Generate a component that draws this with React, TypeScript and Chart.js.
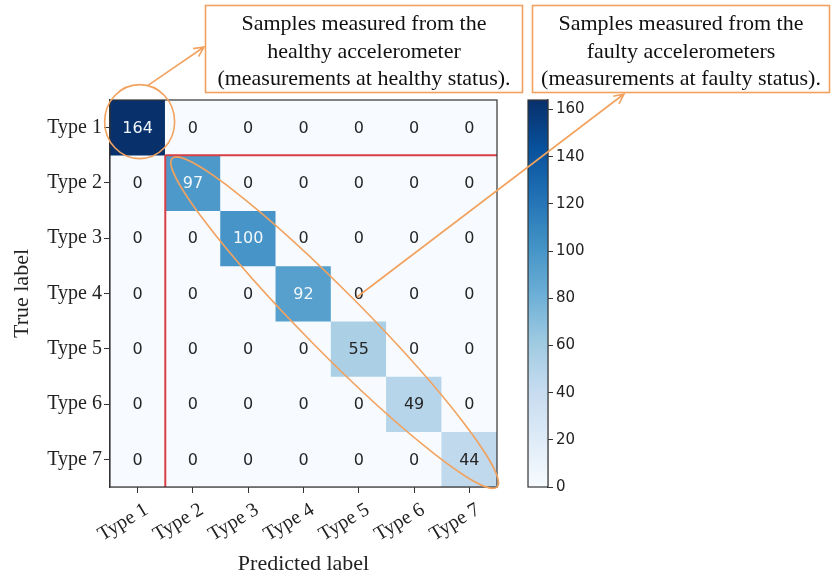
import React, { useEffect, useRef } from 'react';
import { Chart, registerables } from 'chart.js';

Chart.register(...registerables);

// ---------- data ----------
const typeLabels = ['Type 1', 'Type 2', 'Type 3', 'Type 4', 'Type 5', 'Type 6', 'Type 7'];
const row1 = [164, 0, 0, 0, 0, 0, 0];
const row2 = [0, 97, 0, 0, 0, 0, 0];
const row3 = [0, 0, 100, 0, 0, 0, 0];
const row4 = [0, 0, 0, 92, 0, 0, 0];
const row5 = [0, 0, 0, 0, 55, 0, 0];
const row6 = [0, 0, 0, 0, 0, 49, 0];
const row7 = [0, 0, 0, 0, 0, 0, 44];
const confusion = [row1, row2, row3, row4, row5, row6, row7];
const colorMax = 164;
const colorbarTicks = [0, 20, 40, 60, 80, 100, 120, 140, 160];
const xTitle = 'Predicted label';
const yTitle = 'True label';
const healthyNote = ['Samples measured from the', 'healthy accelerometer', '(measurements at healthy status).'];
const faultyNote = ['Samples measured from the', 'faulty accelerometers', '(measurements at faulty status).'];

// ---------- style ----------
const BLUES = ['#f7fbff', '#deebf7', '#c6dbef', '#9ecae1', '#6baed6', '#4292c6', '#2171b5', '#08519c', '#08306b'];
const SERIF = "'Liberation Serif', 'Times New Roman', serif";
const SANS = "'DejaVu Sans', sans-serif";
const ORANGE = '#f2a25e';
const AXIS = '#333333';
const TEXT = '#222222';

function hexToRgb(h: string) {
  const n = parseInt(h.slice(1), 16);
  return [(n >> 16) & 255, (n >> 8) & 255, n & 255];
}
function blues(t: number) {
  const tt = Math.max(0, Math.min(1, t)) * (BLUES.length - 1);
  const i = Math.min(BLUES.length - 2, Math.floor(tt));
  const f = tt - i;
  const a = hexToRgb(BLUES[i]);
  const b = hexToRgb(BLUES[i + 1]);
  const c = a.map((v, k) => Math.round(v + (b[k] - v) * f));
  return `rgb(${c[0]},${c[1]},${c[2]})`;
}

function arrow(ctx: CanvasRenderingContext2D, x0: number, y0: number, x1: number, y1: number) {
  ctx.beginPath();
  ctx.moveTo(x0, y0);
  ctx.lineTo(x1, y1);
  const ang = Math.atan2(y1 - y0, x1 - x0);
  const L = 11;
  const spread = 0.45;
  ctx.moveTo(x1 - L * Math.cos(ang - spread), y1 - L * Math.sin(ang - spread));
  ctx.lineTo(x1, y1);
  ctx.lineTo(x1 - L * Math.cos(ang + spread), y1 - L * Math.sin(ang + spread));
  ctx.stroke();
}

const heatmapPlugin = {
  id: 'heatmapOverlay',
  afterDatasetsDraw(chart: any) {
    const { ctx, chartArea: a, scales } = chart;
    const xs = scales.x;
    const ys = scales.y;
    ctx.save();
    // cell values
    ctx.font = `16px ${SANS}`;
    ctx.textAlign = 'center';
    ctx.textBaseline = 'middle';
    confusion.forEach((row, i) => {
      row.forEach((v, j) => {
        ctx.fillStyle = v > colorMax / 2 ? '#f2f7fc' : '#262626';
        ctx.fillText(String(v), xs.getPixelForValue(j), ys.getPixelForValue(i + 0.5) + 1);
      });
    });
    // red separators
    const xSep = (xs.getPixelForValue(0) + xs.getPixelForValue(1)) / 2;
    const ySep = ys.getPixelForValue(1);
    ctx.strokeStyle = '#d63f46';
    ctx.lineWidth = 2;
    ctx.beginPath();
    ctx.moveTo(xSep, ySep);
    ctx.lineTo(a.right, ySep);
    ctx.moveTo(xSep, ySep);
    ctx.lineTo(xSep, a.bottom);
    ctx.stroke();
    // frame
    ctx.strokeStyle = AXIS;
    ctx.lineWidth = 1.2;
    ctx.strokeRect(a.left, a.top, a.right - a.left, a.bottom - a.top);
    ctx.restore();
  },
  afterDraw(chart: any) {
    const { ctx, chartArea: a, scales } = chart;
    const xs = scales.x;
    const ys = scales.y;
    const cw = (a.right - a.left) / typeLabels.length;
    ctx.save();
    ctx.strokeStyle = ORANGE;
    ctx.lineWidth = 1.6;
    // note boxes
    ctx.strokeRect(205.5, 5.5, 317, 87);
    ctx.strokeRect(532.5, 5.5, 297, 87);
    ctx.fillStyle = '#111';
    ctx.font = `22px ${SERIF}`;
    ctx.textAlign = 'center';
    ctx.textBaseline = 'alphabetic';
    healthyNote.forEach((s, k) => ctx.fillText(s, 364, 30 + k * 27.5));
    faultyNote.forEach((s, k) => ctx.fillText(s, 681, 30 + k * 27.5));
    // circle around Type 1
    const c0x = xs.getPixelForValue(0) + 2;
    const c0y = ys.getPixelForValue(0.5) - 6;
    ctx.beginPath();
    ctx.ellipse(c0x, c0y, 35, 37, 0, 0, Math.PI * 2);
    ctx.stroke();
    // diagonal ellipse
    const tx0 = a.left + cw + 7;
    const ty0 = a.top + cw + 3;
    const tx1 = a.right;
    const ty1 = a.bottom;
    const ecx = (tx0 + tx1) / 2;
    const ecy = (ty0 + ty1) / 2;
    const semiMajor = Math.hypot(tx1 - tx0, ty1 - ty0) / 2;
    const rot = Math.atan2(ty1 - ty0, tx1 - tx0);
    ctx.beginPath();
    ctx.ellipse(ecx, ecy, semiMajor, 30, rot, 0, Math.PI * 2);
    ctx.stroke();
    // arrows
    arrow(ctx, c0x + 8, c0y - 36, 204, 47);
    arrow(ctx, 357, 297, 624, 94);
    ctx.restore();
  },
};

const colorbarPlugin = {
  id: 'colorbarFrame',
  afterDatasetsDraw(chart: any) {
    const { ctx, chartArea: a } = chart;
    ctx.save();
    ctx.strokeStyle = AXIS;
    ctx.lineWidth = 1.2;
    ctx.strokeRect(a.left, a.top, a.right - a.left, a.bottom - a.top);
    ctx.restore();
  },
};

export default function App() {
  const mainRef = useRef<HTMLCanvasElement>(null);
  const cbRef = useRef<HTMLCanvasElement>(null);

  useEffect(() => {
    document.body.style.margin = '0';
    document.body.style.background = '#ffffff';

    const datasets = confusion.map((row, i) => ({
      label: typeLabels[i],
      data: row.map(() => 1),
      backgroundColor: row.map((v) => blues(v / colorMax)),
      borderWidth: 0,
      barPercentage: 1,
      categoryPercentage: 1,
      stack: 'rows',
    }));

    const main = new Chart(mainRef.current as HTMLCanvasElement, {
      type: 'bar',
      data: { labels: typeLabels, datasets },
      options: {
        responsive: false,
        animation: false,
        devicePixelRatio: 1,
        layout: { padding: { left: 0, top: 100, right: 334, bottom: 0 } },
        plugins: { legend: { display: false }, tooltip: { enabled: false } },
        scales: {
          x: {
            stacked: true,
            offset: true,
            grid: { offset: false, drawOnChartArea: false, drawTicks: true, tickLength: 6, color: AXIS, lineWidth: 1 },
            border: { display: true, color: AXIS, width: 1.2 },
            ticks: {
              autoSkip: false,
              minRotation: 31,
              maxRotation: 31,
              padding: 5,
              labelOffset: 9,
              color: TEXT,
              font: { family: SERIF, size: 20 },
            },
            title: { display: true, text: xTitle, color: TEXT, font: { family: SERIF, size: 22 }, padding: { top: 0, bottom: 1 } },
            afterFit(s: any) {
              s.height = 91;
            },
          },
          y: {
            type: 'linear',
            stacked: true,
            min: 0,
            max: typeLabels.length,
            reverse: true,
            afterBuildTicks(s: any) {
              s.ticks = typeLabels.map((_, i) => ({ value: i + 0.5 }));
            },
            grid: { drawOnChartArea: false, drawTicks: true, tickLength: 6, color: AXIS, lineWidth: 1 },
            border: { display: true, color: AXIS, width: 1.2 },
            ticks: {
              padding: 2,
              color: TEXT,
              font: { family: SERIF, size: 20 },
              callback: (v: any) => typeLabels[Math.floor(Number(v))],
            },
            title: { display: true, text: yTitle, color: TEXT, font: { family: SERIF, size: 22 }, padding: { top: 9, bottom: 0 } },
            afterFit(s: any) {
              s.width = 110;
            },
          },
        },
      } as any,
      plugins: [heatmapPlugin],
    });

    const cb = new Chart(cbRef.current as HTMLCanvasElement, {
      type: 'bar',
      data: {
        labels: ['colorbar'],
        datasets: [
          {
            data: [[0, colorMax]] as any,
            borderWidth: 0,
            barPercentage: 1,
            categoryPercentage: 1,
            backgroundColor: (c: any) => {
              const area = c.chart.chartArea;
              if (!area) return BLUES[4];
              const g = c.chart.ctx.createLinearGradient(0, area.bottom, 0, area.top);
              BLUES.forEach((col, k) => g.addColorStop(k / (BLUES.length - 1), col));
              return g;
            },
          },
        ],
      },
      options: {
        responsive: false,
        animation: false,
        devicePixelRatio: 1,
        layout: { padding: { left: 528, top: 100, right: 233, bottom: 91 } },
        plugins: { legend: { display: false }, tooltip: { enabled: false } },
        scales: {
          x: { display: false },
          y: {
            position: 'right',
            min: 0,
            max: colorMax,
            afterBuildTicks(s: any) {
              s.ticks = colorbarTicks.map((v) => ({ value: v }));
            },
            grid: { drawOnChartArea: false, drawTicks: true, tickLength: 5, color: AXIS, lineWidth: 1 },
            border: { display: true, color: AXIS, width: 1.2 },
            ticks: { padding: 3, color: TEXT, font: { family: SANS, size: 15 } },
            afterFit(s: any) {
              s.width = 50;
            },
          },
        },
      } as any,
      plugins: [colorbarPlugin],
    });

    return () => {
      main.destroy();
      cb.destroy();
    };
  }, []);

  return (
    <div style={{ position: 'relative', width: 831, height: 578, background: '#fff' }}>
      <canvas ref={cbRef} width={831} height={578} style={{ position: 'absolute', left: 0, top: 0 }} />
      <canvas ref={mainRef} width={831} height={578} style={{ position: 'absolute', left: 0, top: 0 }} />
    </div>
  );
}
